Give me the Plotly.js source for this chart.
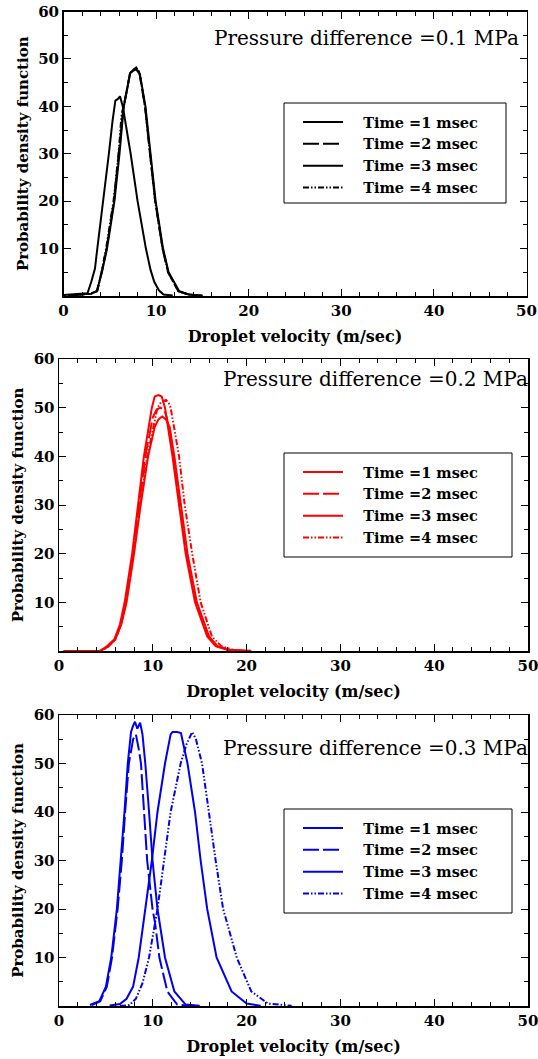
<!DOCTYPE html>
<html>
<head>
<meta charset="utf-8">
<script src="https://cdn.plot.ly/plotly-3.0.1.min.js"></script>
<style>html,body{margin:0;padding:0;background:#fff}#chart{width:538px;height:1059px}</style>
</head>
<body>
<div id="chart"></div>
<script>
// ---------- data ----------
const seriesNames = ["Time =1 msec", "Time =2 msec", "Time =3 msec", "Time =4 msec"];
const panelTitles = ["Pressure difference =0.1 MPa", "Pressure difference =0.2 MPa", "Pressure difference =0.3 MPa"];
const xTitle = "Droplet velocity (m/sec)";
const yTitle = "Probability density function";
const yTickVals = [10, 20, 30, 40, 50, 60];

// 0.1 MPa
const p1_t1_x = [0, 1, 2, 2.6, 3.0, 3.4, 3.65, 4.3, 4.9, 5.3, 5.6, 5.85, 6.1, 6.4, 6.7, 7.25, 8.0, 8.9, 9.4, 9.8, 10.3, 10.8, 11.8];
const p1_t1_y = [0.2, 0.3, 0.4, 0.6, 3.0, 5.8, 10, 20, 30, 37, 41.2, 41.5, 42.1, 40, 36.5, 30, 20, 10, 5.5, 3.0, 1.2, 0.3, 0.1];
const p1_t2_x = [0.5, 1.5, 2.5, 3.0, 3.3, 3.6, 4.12, 4.66, 5.45, 6.0, 6.25, 6.45, 6.9, 7.18, 7.5, 7.8, 8.2, 8.8, 9.34, 9.9, 10.7, 11.3, 12.4, 13.5, 15];
const p1_t2_y = [0.1, 0.2, 0.3, 0.5, 0.8, 1.0, 5, 10, 20, 30, 36, 39.5, 44, 47, 47.6, 48.1, 47, 40, 30, 20, 10, 5, 1, 0.3, 0.05];
const p1_t3_x = [0.5, 1.5, 2.5, 3.0, 3.3, 3.6, 4.15, 4.7, 5.5, 6.05, 6.5, 6.95, 7.2, 7.5, 7.85, 8.25, 8.85, 9.4, 9.95, 10.75, 11.35, 12.5, 13.6, 15];
const p1_t3_y = [0.1, 0.2, 0.3, 0.5, 0.8, 1.0, 5, 10, 20, 30, 39.8, 44.5, 47, 47.5, 47.8, 46.8, 40, 30, 20, 10, 5, 1, 0.3, 0.05];
const p1_t4_x = [0.5, 1.5, 2.5, 3.0, 3.35, 3.65, 4.1, 4.6, 5.4, 5.95, 6.2, 6.3, 6.5, 7.2, 7.55, 7.85, 8.2, 8.8, 9.35, 9.9, 10.7, 11.3, 12.4, 13.5, 15];
const p1_t4_y = [0.1, 0.2, 0.3, 0.5, 0.8, 1.0, 5, 10, 20, 30, 36.5, 38.6, 40, 47, 47.7, 48.2, 47.2, 40, 30, 20, 10, 5, 1, 0.3, 0.05];

// 0.2 MPa
const p2_t1_x = [0.5, 2, 4.3, 5.0, 5.9, 6.5, 7.0, 7.8, 8.45, 9.05, 9.9, 10.2, 10.6, 10.95, 11.3, 12.1, 12.8, 13.5, 14.5, 15.8, 16.7, 18, 19.5];
const p2_t1_y = [0, 0, 0, 0.8, 2.4, 5.5, 10, 20, 30, 40, 50, 52.3, 52.6, 52.3, 50, 40, 30, 20, 10, 3, 1, 0.2, 0.05];
const p2_t2_x = [0.5, 2, 4.4, 5.1, 6.0, 6.6, 7.1, 7.9, 8.55, 9.2, 10.0, 10.4, 10.8, 11.2, 11.5, 12.2, 12.9, 13.6, 14.6, 15.9, 16.8, 18.2, 19.8];
const p2_t2_y = [0, 0, 0, 0.8, 2.4, 5.5, 10, 20, 30, 40, 48, 49.6, 50, 49.6, 48, 40, 30, 20, 10, 3, 1, 0.2, 0.05];
const p2_t3_x = [0.5, 2, 4.4, 5.1, 6.0, 6.65, 7.2, 8.0, 8.7, 9.5, 10.2, 10.6, 11.0, 11.4, 11.8, 12.3, 13.0, 13.7, 14.7, 16.0, 16.9, 18.3, 20.0];
const p2_t3_y = [0, 0, 0, 0.8, 2.4, 5.5, 10, 20, 30, 40, 46, 47.6, 48.2, 47.6, 46, 40, 30, 20, 10, 3, 1, 0.2, 0.05];
const p2_t4_x = [0.5, 2, 4.5, 5.2, 6.0, 6.6, 7.15, 7.95, 8.65, 9.4, 10.5, 10.9, 11.4, 11.7, 11.9, 12.8, 13.4, 14.2, 15.1, 16.3, 17.3, 18.6, 20.5];
const p2_t4_y = [0, 0, 0, 0.8, 2.4, 5.5, 10, 20, 30, 40, 50, 51.2, 51.6, 51.0, 50, 40, 30, 20, 10, 3, 1, 0.2, 0.05];

// 0.3 MPa
const p3_t1_x = [3.3, 4.3, 5.0, 5.57, 6.17, 6.6, 6.98, 7.33, 7.68, 7.9, 8.1, 8.35, 8.65, 8.9, 9.2, 9.6, 9.97, 10.5, 11.3, 12.3, 13.5, 15];
const p3_t1_y = [0.2, 1, 4, 10, 20, 30, 40, 50, 56.5, 57.8, 58.6, 57.2, 58.4, 56, 50, 40, 30, 20, 10, 3, 0.3, 0.05];
const p3_t2_x = [3.5, 4.4, 5.1, 5.65, 6.25, 6.7, 7.05, 7.45, 7.9, 8.2, 8.5, 8.74, 9.4, 9.97, 10.25, 10.7, 11.55, 12.6, 14];
const p3_t2_y = [0.2, 1, 4, 10, 20, 30, 40, 50, 55, 56, 53, 50, 30, 20, 17, 10, 3, 0.3, 0.05];
const p3_t3_x = [5.4, 6.5, 7.2, 7.9, 8.5, 9.2, 9.9, 10.5, 11.3, 11.9, 12.1, 12.6, 13.0, 13.7, 14.5, 15.1, 15.8, 16.8, 18.4, 20.0, 21.5];
const p3_t3_y = [0.1, 0.4, 1.5, 4, 10, 20, 30, 40, 50, 56, 56.5, 56.5, 56.3, 50, 40, 30, 20, 10, 3, 0.5, 0.05];
const p3_t4_x = [6.5, 7.5, 8.2, 8.9, 9.6, 10.5, 11.2, 11.9, 12.97, 13.6, 14.2, 14.6, 15.25, 15.96, 16.7, 17.5, 18.95, 20.5, 22.3, 24.8];
const p3_t4_y = [0, 0.2, 1.5, 4.7, 10, 20, 30, 40, 50, 54, 56.5, 55, 50, 40, 30, 20, 10, 3, 0.5, 0.05];

// ---------- styles ----------
const panelColors = ["#000000", "#ff0000", "#0000ee"];
const dashes = ["solid", "16px,4px", "solid", "6px,2px,1.5px,2px,1.5px,2px"];
const FONT = "DejaVu Serif, Liberation Serif, serif";
const LEGEND_PAD = "\u00a0\u00a0\u00a0";

const W = 538, H = 1059;
// pixel geometry of each panel: [left, right, top, bottom]
const panelBoxes = [[63.5, 526.5, 11.5, 296], [59, 528, 359, 651], [59, 528, 715, 1006]];
const legendBoxes = [[284, 506, 103, 203], [284, 512, 453, 557], [284, 512, 809, 913]];
const titlePos = [[521, 38], [530, 379], [530, 748]];

const panelData = [
  [[p1_t1_x, p1_t1_y], [p1_t2_x, p1_t2_y], [p1_t3_x, p1_t3_y], [p1_t4_x, p1_t4_y]],
  [[p2_t1_x, p2_t1_y], [p2_t2_x, p2_t2_y], [p2_t3_x, p2_t3_y], [p2_t4_x, p2_t4_y]],
  [[p3_t1_x, p3_t1_y], [p3_t2_x, p3_t2_y], [p3_t3_x, p3_t3_y], [p3_t4_x, p3_t4_y]]
];

const traces = [];
const layout = {
  width: W, height: H,
  margin: {l: 0, r: 0, t: 0, b: 0},
  paper_bgcolor: "#fff", plot_bgcolor: "#fff",
  font: {family: FONT, color: "#000"},
  showlegend: true,
  shapes: [], annotations: []
};

panelData.forEach((series, p) => {
  const n = p + 1;
  const sfx = n === 1 ? "" : String(n);
  const legName = "legend" + sfx;
  series.forEach((s, i) => {
    traces.push({
      type: "scatter", mode: "lines",
      x: s[0], y: s[1],
      name: LEGEND_PAD + seriesNames[i],
      xaxis: "x" + sfx, yaxis: "y" + sfx,
      legend: legName,
      line: {color: panelColors[p], width: 2, dash: dashes[i]}
    });
  });
  const [l, r, t, b] = panelBoxes[p];
  const axCommon = {
    showline: true, mirror: "ticks", linecolor: "#000", linewidth: 1.5,
    ticks: "inside", ticklen: 7, tickwidth: 1, tickcolor: "#000",
    showgrid: false, zeroline: false, fixedrange: true,
    ticklabeloverflow: "allow",
    tickfont: {family: FONT, size: 15, weight: "bold", color: "#000"}
  };
  layout["xaxis" + sfx] = Object.assign({}, axCommon, {
    domain: [l / W, r / W], anchor: "y" + sfx,
    range: [0, 50], tickmode: "linear", tick0: 0, dtick: 10,
    minor: {tickmode: "linear", tick0: 0, dtick: 2, ticks: "inside", ticklen: 4, tickcolor: "#000", showgrid: false},
    title: {text: xTitle, standoff: 12, font: {family: FONT, size: 16, weight: "bold", color: "#000"}}
  });
  layout["yaxis" + sfx] = Object.assign({}, axCommon, {
    domain: [(H - b) / H, (H - t) / H], anchor: "x" + sfx,
    range: [0, 60], tickmode: "array", tickvals: yTickVals,
    minor: {tickmode: "linear", tick0: 0, dtick: 5, ticks: "inside", ticklen: 4, tickcolor: "#000", showgrid: false},
    title: {text: yTitle, standoff: 6, font: {family: FONT, size: 15, weight: "bold", color: "#000"}}
  });
  const [lx0, lx1, ly0, ly1] = legendBoxes[p];
  layout.shapes.push({
    type: "rect", xref: "paper", yref: "paper",
    x0: lx0 / W, x1: lx1 / W, y0: (H - ly1) / H, y1: (H - ly0) / H,
    line: {color: "#000", width: 1}, fillcolor: "rgba(0,0,0,0)"
  });
  layout[legName] = {
    x: (lx0 + 14) / W, y: (H - ly0 - 3) / H, xanchor: "left", yanchor: "top",
    bgcolor: "rgba(0,0,0,0)", borderwidth: 0, itemwidth: 40, tracegroupgap: 0,
    font: {family: FONT, size: 14.5, weight: "bold", color: "#000"}
  };
  layout.annotations.push({
    xref: "paper", yref: "paper", x: titlePos[p][0] / W, y: (H - titlePos[p][1]) / H,
    xanchor: "right", yanchor: "middle", showarrow: false,
    text: panelTitles[p], font: {family: FONT, size: 20, color: "#000"}
  });
});

Plotly.newPlot("chart", traces, layout, {staticPlot: true, displayModeBar: false});
</script>
</body>
</html>
